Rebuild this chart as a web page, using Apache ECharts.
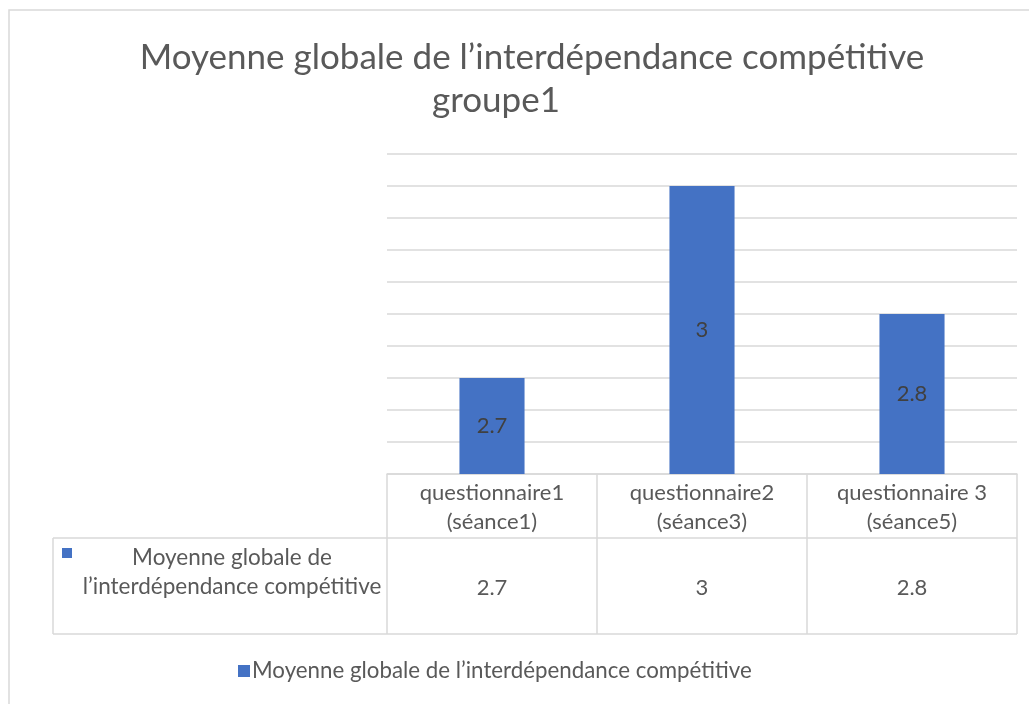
<!DOCTYPE html>
<html>
<head>
<meta charset="utf-8">
<script src="https://cdn.jsdelivr.net/npm/echarts@6/dist/echarts.min.js"></script>
<style>
  html, body { margin: 0; padding: 0; background: #fff; }
  #chart { width: 1029px; height: 704px; }
</style>
</head>
<body>
<div id="chart"></div>
<script>
const titleLines = ['Moyenne globale de l\u2019interdépendance compétitive', 'groupe1']
const seriesName = 'Moyenne globale de l\u2019interdépendance compétitive'
const categories = ['questionnaire1\n(séance1)', 'questionnaire2\n(séance3)', 'questionnaire 3\n(séance5)']
const values = [2.7, 3, 2.8]
const yMin = 2.55
const yMax = 3.05
const yStep = 0.05

const barColor = '#4472c4'
const textColor = '#595959'
const lineColor = '#d9d9d9'
const font = 'Lato'

// grid box in px, the data table hangs under it
const gLeft = 387, gRight = 1017, gTop = 154, gBottom = 474
const rowTop = 538, rowBottom = 634, tableLeft = 53

const chart = echarts.init(document.getElementById('chart'))

const titleStyle = { fontSize: 35, fontWeight: 'normal', color: textColor, fontFamily: font }

chart.setOption({
  animation: false,
  textStyle: { fontFamily: font },
  title: [
    { text: titleLines[0], left: 527, top: 35, textAlign: 'center', textStyle: titleStyle },
    { text: titleLines[1], left: 491, top: 78, textAlign: 'center', textStyle: titleStyle }
  ],
  legend: {
    left: 233,
    top: 655,
    itemWidth: 12,
    itemHeight: 12,
    itemGap: 6,
    icon: 'rect',
    textStyle: { fontSize: 22.3, color: textColor, padding: [0, 0, 0, -3] },
    data: [seriesName]
  },
  grid: { left: gLeft, right: 1029 - gRight, top: gTop, bottom: 704 - gBottom, containLabel: false },
  xAxis: [
    {
      type: 'category',
      data: categories,
      axisLine: { lineStyle: { color: lineColor, width: 1.5 } },
      axisTick: { show: true, length: rowBottom - gBottom, lineStyle: { color: lineColor, width: 1.5 } },
      axisLabel: { color: textColor, fontSize: 22, lineHeight: 29, margin: 4 }
    },
    {
      type: 'category',
      position: 'bottom',
      offset: 114,
      data: values.map(String),
      axisLine: { show: false },
      axisTick: { show: false },
      axisLabel: { color: textColor, fontSize: 22, margin: 0, verticalAlign: 'middle' }
    }
  ],
  yAxis: {
    type: 'value',
    min: yMin,
    max: yMax,
    interval: yStep,
    axisLabel: { show: false },
    axisLine: { show: false },
    axisTick: { show: false },
    splitLine: { lineStyle: { color: lineColor, width: 1.5 } }
  },
  series: [{
    name: seriesName,
    type: 'bar',
    data: values,
    barWidth: '31%',
    itemStyle: { color: barColor },
    label: {
      show: true,
      position: 'inside',
      color: '#404040',
      fontSize: 22
    }
  }],
  graphic: [
    { type: 'rect', silent: true, shape: { x: 9, y: 10, width: 1100, height: 800 },
      style: { fill: null, stroke: lineColor, lineWidth: 1.5 } },
    { type: 'line', silent: true, shape: { x1: tableLeft, y1: rowTop, x2: gRight, y2: rowTop },
      style: { stroke: lineColor, lineWidth: 1.5 } },
    { type: 'line', silent: true, shape: { x1: tableLeft, y1: rowBottom, x2: gRight, y2: rowBottom },
      style: { stroke: lineColor, lineWidth: 1.5 } },
    { type: 'line', silent: true, shape: { x1: tableLeft, y1: rowTop, x2: tableLeft, y2: rowBottom },
      style: { stroke: lineColor, lineWidth: 1.5 } },
    { type: 'rect', silent: true, shape: { x: 62, y: 548, width: 10, height: 10 },
      style: { fill: barColor } },
    { type: 'text', silent: true, x: 232, y: 572,
      style: { text: 'Moyenne globale de\nl\u2019interdépendance compétitive', align: 'center', verticalAlign: 'middle',
        fontSize: 22.5, lineHeight: 29, fill: textColor, fontFamily: font } }
  ]
})
</script>
</body>
</html>
